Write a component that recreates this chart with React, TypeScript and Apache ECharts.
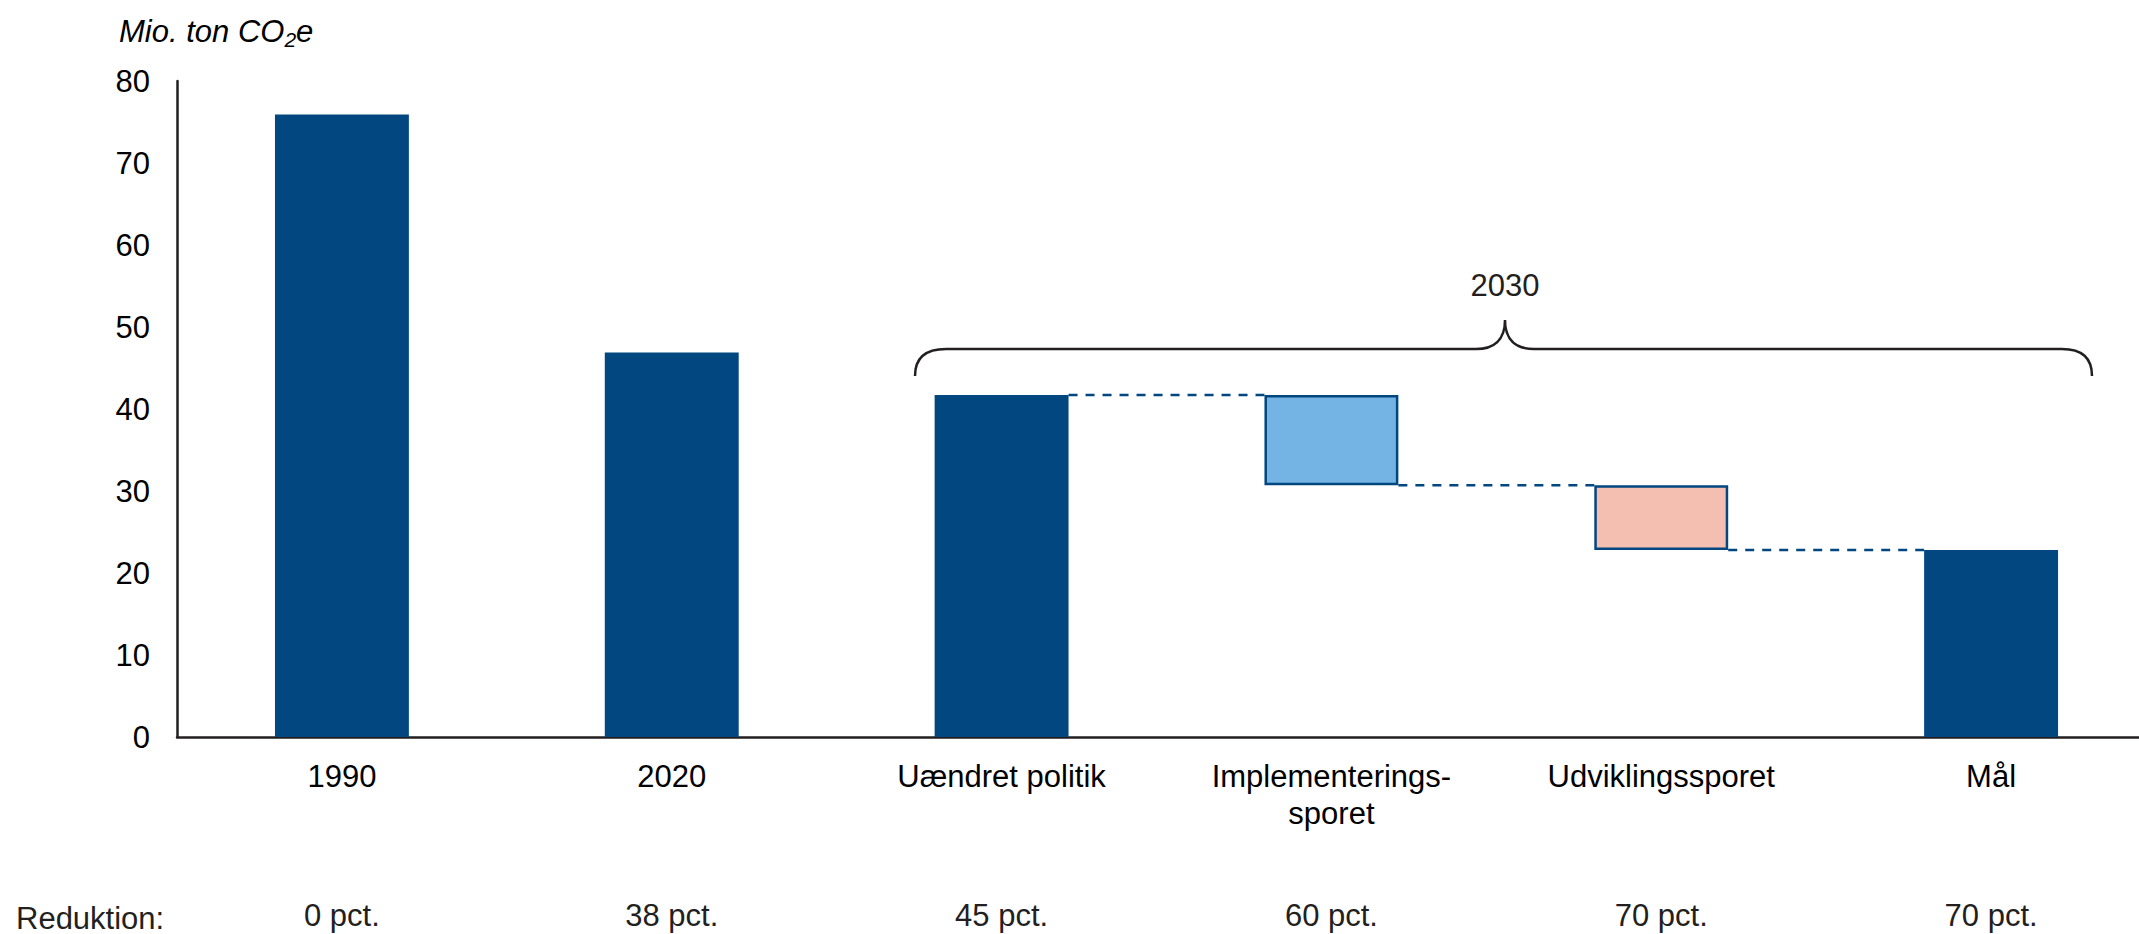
import React, { useEffect, useRef } from "react";
import * as echarts from "echarts";

const categories = ["1990", "2020", "Uændret politik", "Implementerings-\nsporet", "Udviklingssporet", "Mål"];
const totals: (number | null)[] = [75.9, 46.9, 41.7, null, null, 22.8];
const stepTop: (number | null)[] = [null, null, null, 41.7, 30.7, null];
const stepBottom: (number | null)[] = [null, null, null, 30.7, 22.8, null];
const reductions = ["0 pct.", "38 pct.", "45 pct.", "60 pct.", "70 pct.", "70 pct."];
const bracketLabel = "2030";
const rowLabel = "Reduktion:";

const FONT = "'Liberation Sans', Arial, sans-serif";
const FS = 31;
const DARK = "#02477f";
const INK = "#231f20";
const BAR_RATIO = 0.406;

const braceD =
  "M 915 376 C 915 358 926 349 946 349 L 1476 349 C 1494 349 1505 340 1505 320 " +
  "C 1505 340 1516 349 1534 349 L 2062 349 C 2082 349 2092 358 2092 376";
echarts.graphic.registerShape("brace", echarts.graphic.extendPath(braceD, {}) as any);

export default function App() {
  const ref = useRef<HTMLDivElement>(null);
  useEffect(() => {
    if (!ref.current) return;
    const chart = echarts.init(ref.current, null, { renderer: "svg" });
    const dash = (v: number | null) => (v == null ? "-" : v);
    const base = categories.map((_, i) => (stepBottom[i] != null ? stepBottom[i] : 0));
    const implData = categories.map((_, i) => (i === 3 ? (stepTop[i] as number) - (stepBottom[i] as number) : "-"));
    const udvData = categories.map((_, i) => (i === 4 ? (stepTop[i] as number) - (stepBottom[i] as number) : "-"));
    const connectors: number[][] = [];
    for (let i = 2; i < categories.length - 1; i++) {
      const lvl = stepBottom[i] != null ? stepBottom[i] : totals[i];
      connectors.push([i, lvl as number]);
    }
    chart.setOption({
      animation: false,
      title: {
        text: "{a|Mio. ton CO}{b|2}{a|e}",
        left: 114,
        top: 8,
        textStyle: {
          fontWeight: "normal",
          rich: {
            a: { fontFamily: FONT, fontSize: FS, fontStyle: "italic", fontWeight: "normal", color: "#000" },
            b: { fontFamily: FONT, fontSize: 21, fontStyle: "italic", fontWeight: "normal", color: "#000", padding: [16, 0, 0, 0] },
          },
        },
      },
      grid: { left: 177, right: -17, top: 81, bottom: 197, containLabel: false, outerBoundsMode: "none" },
      xAxis: [
        {
          type: "category",
          data: categories,
          axisLine: { lineStyle: { color: INK, width: 2.5 } },
          axisTick: { show: false },
          axisLabel: { fontFamily: FONT, fontSize: FS, color: "#000", margin: 21, lineHeight: 37, interval: 0 },
        },
        {
          type: "category",
          data: reductions,
          position: "bottom",
          offset: 163,
          axisLine: { show: false },
          axisTick: { show: false },
          axisLabel: { fontFamily: FONT, fontSize: FS, color: INK, margin: 0, interval: 0 },
        },
      ],
      yAxis: {
        type: "value",
        min: 0,
        max: 80,
        interval: 10,
        splitLine: { show: false },
        axisTick: { show: false },
        axisLine: { show: true, lineStyle: { color: INK, width: 2.5 } },
        axisLabel: { fontFamily: FONT, fontSize: FS, color: "#000", margin: 27 },
      },
      series: [
        {
          type: "bar",
          stack: "w",
          barWidth: BAR_RATIO * 100 + "%",
          data: base,
          itemStyle: { color: "transparent" },
          silent: true,
        },
        {
          type: "bar",
          stack: "w",
          data: totals.map(dash),
          itemStyle: { color: DARK },
        },
        {
          type: "bar",
          stack: "w",
          data: implData,
          itemStyle: { color: "#74b4e4", borderColor: DARK, borderWidth: 2.5 },
        },
        {
          type: "bar",
          stack: "w",
          data: udvData,
          itemStyle: { color: "#f4beb0", borderColor: DARK, borderWidth: 2.5 },
        },
        {
          type: "custom",
          data: connectors,
          encode: { x: 0, y: 1 },
          z: 5,
          renderItem: (params: any, api: any) => {
            const i = api.value(0);
            const v = api.value(1);
            const p = api.coord([i, v]);
            const band = api.size([1, 0])[0];
            const half = (band * BAR_RATIO) / 2;
            return {
              type: "line",
              shape: { x1: p[0] + half, y1: p[1], x2: p[0] + band - half, y2: p[1] },
              style: { stroke: DARK, lineWidth: 2.5, lineDash: [9, 8] },
            };
          },
        },
      ],
      graphic: [
        {
          type: "brace",
          x: 0,
          y: 0,
          scaleX: 1,
          scaleY: 1,
          shape: {},
          style: { fill: "none", stroke: INK, lineWidth: 2.5 },
        },
        {
          type: "text",
          x: 1505,
          y: 285,
          style: { text: bracketLabel, font: `${FS}px ${FONT}`, fill: INK, textAlign: "center", textVerticalAlign: "middle" },
        },
        {
          type: "text",
          x: 16,
          y: 918,
          style: { text: rowLabel, font: `${FS}px ${FONT}`, fill: INK, textAlign: "left", textVerticalAlign: "middle" },
        },
      ],
    });
    return () => chart.dispose();
  }, []);
  return (
    <div style={{ position: "fixed", left: 0, top: 0, width: 2139, height: 934, background: "#fff" }}>
      <div ref={ref} style={{ width: 2139, height: 934 }} />
    </div>
  );
}
